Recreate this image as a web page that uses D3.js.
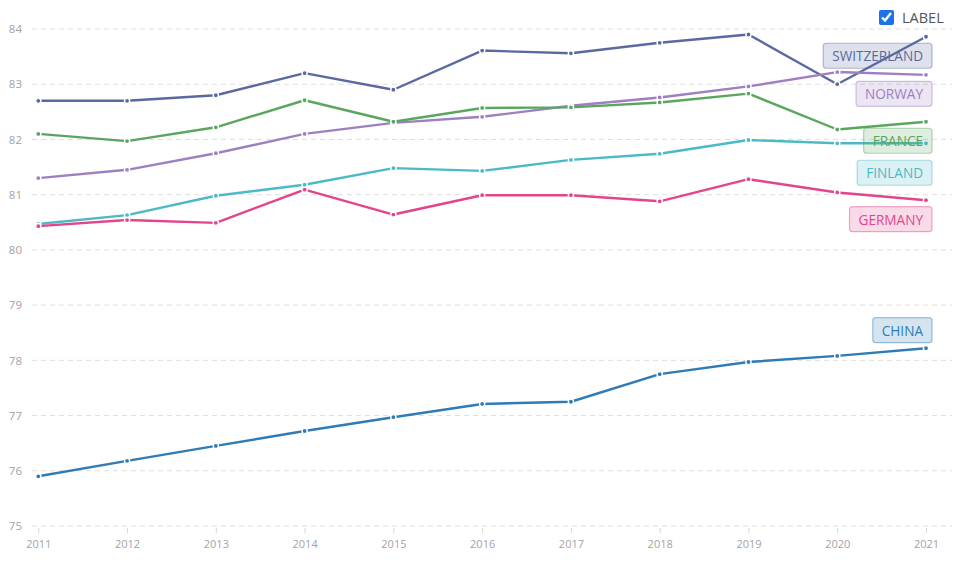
<!DOCTYPE html>
<html>
<head>
<meta charset="utf-8">
<script src="https://cdn.jsdelivr.net/npm/d3@7.9.0/dist/d3.min.js"></script>
<style>
  body { margin: 0; background: #fff; font-family: "Open Sans", sans-serif; }
  #wrap { position: relative; width: 959px; height: 568px; }
  .toggle { position: absolute; left: 879px; top: 8px; display: flex; align-items: center;
            font-size: 14.5px; color: #555; }
  .toggle input { width: 15px; height: 15px; margin: 0 8px 0 0; accent-color: #1a73e8; }
</style>
</head>
<body>
<div id="wrap">
  <svg id="chart" width="959" height="568"></svg>
  <label class="toggle"><input type="checkbox" checked>LABEL</label>
</div>
<script>
// ─── Data ──────────────────────────────────────────────────────────────────
const years = [2011, 2012, 2013, 2014, 2015, 2016, 2017, 2018, 2019, 2020, 2021];
const yTicks = [75, 76, 77, 78, 79, 80, 81, 82, 83, 84];

const countries = ['SWITZERLAND', 'NORWAY', 'FRANCE', 'FINLAND', 'GERMANY', 'CHINA'];
const switzerland = [82.7, 82.7, 82.8, 83.2, 82.9, 83.61, 83.56, 83.75, 83.9, 83.0, 83.86];
const norway      = [81.3, 81.45, 81.75, 82.1, 82.3, 82.41, 82.61, 82.76, 82.96, 83.22, 83.17];
const france      = [82.1, 81.97, 82.22, 82.71, 82.32, 82.57, 82.58, 82.67, 82.83, 82.18, 82.32];
const finland     = [80.47, 80.63, 80.98, 81.18, 81.48, 81.43, 81.63, 81.74, 81.99, 81.93, 81.93];
const germany     = [80.43, 80.54, 80.49, 81.09, 80.64, 80.99, 80.99, 80.88, 81.28, 81.04, 80.9];
const china       = [75.9, 76.18, 76.45, 76.72, 76.97, 77.21, 77.25, 77.75, 77.97, 78.08, 78.22];

const colors = ['#5a6aa0', '#9e7fc1', '#5ba65f', '#4bbac6', '#e3448b', '#2f7bb6'];
// label sits below its last point, except where it would be crowded
const labelSide = ['below', 'below', 'below', 'below', 'below', 'above'];

const series = countries.map((name, i) => ({
  name,
  color: colors[i],
  side: labelSide[i],
  values: [switzerland, norway, france, finland, germany, china][i]
}));

// ─── Scales ────────────────────────────────────────────────────────────────
const x = d3.scaleLinear().domain([2011, 2021]).range([38.3, 926]);
const y = d3.scaleLinear().domain([75, 84]).range([526, 29]);

const svg = d3.select('#chart');

// ─── Grid + axes ───────────────────────────────────────────────────────────
svg.append('g')
  .selectAll('line')
  .data(yTicks)
  .join('line')
  .attr('x1', 32).attr('x2', 952)
  .attr('y1', d => y(d)).attr('y2', d => y(d))
  .attr('stroke', '#dedede')
  .attr('stroke-dasharray', '5,4');

const yAxis = svg.append('g')
  .attr('transform', 'translate(22,0)')
  .call(d3.axisLeft(y).tickValues(yTicks).tickSize(0).tickPadding(0).tickFormat(d3.format('d')));
yAxis.select('.domain').remove();
yAxis.selectAll('text')
  .attr('fill', '#a3a3a3')
  .style('font-family', '"Open Sans", sans-serif')
  .style('font-size', '11.5px');

const xAxis = svg.append('g')
  .attr('transform', `translate(0,${y(75) + 2})`)
  .call(d3.axisBottom(x).tickValues(years).tickSize(5).tickPadding(7).tickFormat(d3.format('d')));
xAxis.select('.domain').remove();
xAxis.selectAll('line').attr('stroke', '#d6d6d6');
xAxis.selectAll('text')
  .attr('fill', '#a3a3a3')
  .style('font-family', '"Open Sans", sans-serif')
  .style('font-size', '11px');

// ─── Lines + points ────────────────────────────────────────────────────────
const line = d3.line()
  .x((d, i) => x(years[i]))
  .y(d => y(d));

const lineG = svg.append('g');
series.forEach(s => {
  lineG.append('path')
    .attr('d', line(s.values))
    .attr('fill', 'none')
    .attr('stroke', s.color)
    .attr('stroke-width', 2.4)
    .attr('stroke-linejoin', 'round');

  lineG.append('g')
    .selectAll('circle')
    .data(s.values)
    .join('circle')
    .attr('cx', (d, i) => x(years[i]))
    .attr('cy', d => y(d))
    .attr('r', 2.6)
    .attr('fill', s.color)
    .attr('stroke', '#fff')
    .attr('stroke-width', 1.4);
});

// ─── End labels (with simple vertical dodging) ─────────────────────────────
const boxH = 25, gap = 7, labelRight = 932;
const placed = series.map(s => {
  const yy = y(s.values[s.values.length - 1]);
  return { s, cy: s.side === 'above' ? yy - 18 : yy + 19 };
}).sort((a, b) => a.cy - b.cy);

for (let i = 1; i < placed.length; i++) {
  const prev = placed[i - 1];
  if (placed[i].cy - prev.cy < boxH + gap) placed[i].cy = prev.cy + boxH + gap;
}

const labelG = svg.append('g');
placed.forEach(p => {
  const g = labelG.append('g');
  const rect = g.append('rect');
  const text = g.append('text')
    .text(p.s.name)
    .attr('x', labelRight - 9)
    .attr('y', p.cy)
    .attr('text-anchor', 'end')
    .attr('dominant-baseline', 'central')
    .attr('fill', p.s.color)
    .style('font-family', '"Open Sans", sans-serif')
    .style('font-size', '13.6px');
  const w = text.node().getComputedTextLength() + 18;
  rect
    .attr('x', labelRight - w)
    .attr('y', p.cy - boxH / 2)
    .attr('width', w)
    .attr('height', boxH)
    .attr('rx', 3)
    .attr('fill', p.s.color)
    .attr('fill-opacity', 0.2)
    .attr('stroke', p.s.color)
    .attr('stroke-opacity', 0.45)
    .attr('stroke-width', 1.2);
});
</script>
</body>
</html>
